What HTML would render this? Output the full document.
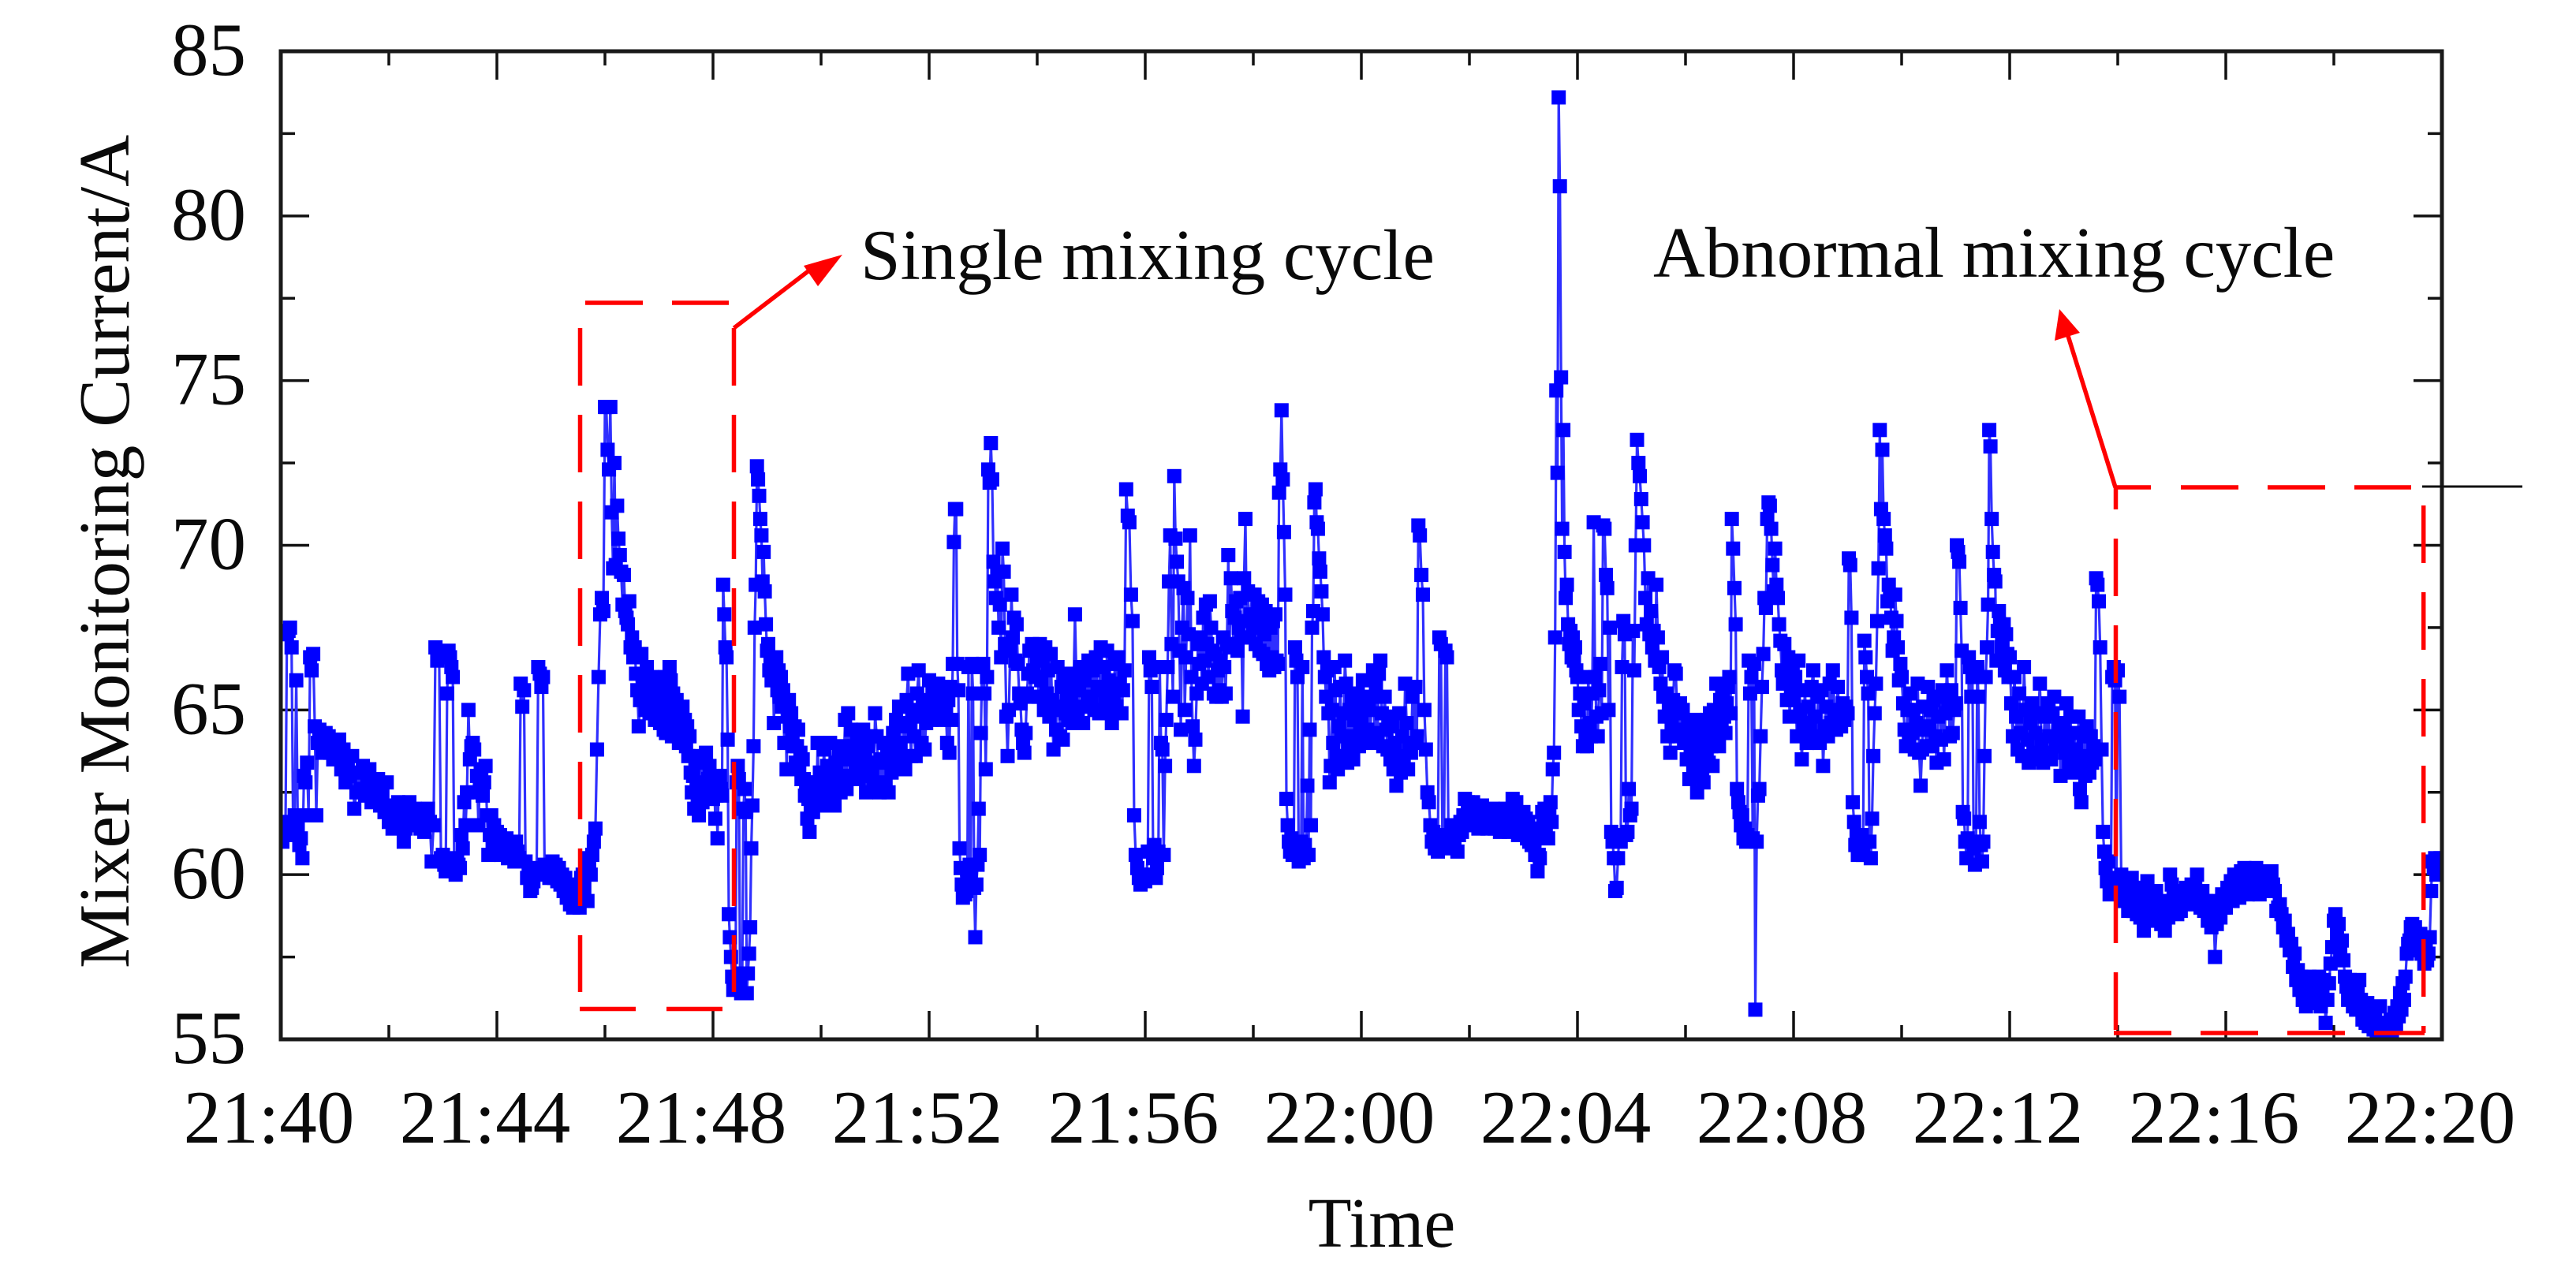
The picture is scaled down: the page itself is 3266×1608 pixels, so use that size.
<!DOCTYPE html>
<html lang="en">
<head>
<meta charset="utf-8">
<title>Mixer Monitoring Current</title>
<style>
html,body{margin:0;padding:0;background:#fff;}
svg{display:block;}
text{font-family:"Liberation Serif",serif;fill:#0a0a0a;}
</style>
</head>
<body>
<svg id="chart" xmlns="http://www.w3.org/2000/svg" width="3266" height="1608" viewBox="0 0 3266 1608">
  <defs><clipPath id="plot-clip"><rect x="354" y="63" width="2744" height="1256"/></clipPath></defs>
  <g id="axes"></g>
  <g id="series" clip-path="url(#plot-clip)"></g>
  <g id="frame"></g>
  <g id="labels"></g>
  <text font-size="91.5" transform="translate(163,1228) rotate(-90)">Mixer Monitoring Current/A</text>
  <text font-size="90" x="1752" y="1581" text-anchor="middle">Time</text>
  <text font-size="91" x="1091" y="354">Single mixing cycle</text>
  <text font-size="91" x="2096" y="351">Abnormal mixing cycle</text>

  <g fill="none" stroke="#ff0000" stroke-width="5.5">
    <path d="M742 384H924" stroke-dasharray="73 37"/>
    <path d="M735.5 416V1258" stroke-dasharray="73 37"/>
    <path d="M930.5 416V1258" stroke-dasharray="73 37"/>
    <path d="M735 1279.5H916" stroke-dasharray="71 39"/>
    <path d="M930.5 416L1035 336"/>
    <polygon points="1068,323 1019,337 1037,363" fill="#ff0000" stroke="none"/>
  </g>
  <g fill="none" stroke="#ff0000" stroke-width="5.5">
    <path d="M2682 618H3057" stroke-dasharray="45 38 73 37 73 37 73 0"/>
    <path d="M2682.5 1306V618" stroke-dasharray="73 37"/>
    <path d="M3072.7 641V1310" stroke-dasharray="73 37"/>
    <path d="M2680 1310H3074" stroke-dasharray="73 37"/>
    <path d="M2682 618L2622 426"/>
    <polygon points="2611,392 2605,432 2637,422" fill="#ff0000" stroke="none"/>
  </g>
  <line x1="3071" y1="617" x2="3198" y2="617" stroke="#111" stroke-width="3"/>
</svg>
<script>
const xTickLabels = ['21:40','21:44','21:48','21:52','21:56','22:00','22:04','22:08','22:12','22:16','22:20'];
const xTickMinutes = [0,4,8,12,16,20,24,28,32,36,40];
const yTickValues = [55,60,65,70,75,80,85];

const m00 = [61.3,61.0,61.6,61.2,67.3,67.4,67.5,66.9,61.2,61.8,65.9,61.5,60.9,61.1,60.5,63.0,62.8,63.4,61.8,66.6,66.2,66.7,64.5,61.8,64.0,64.4,64.2,63.7,64.1,64.3,63.9,64.2,63.7,64.0,63.5];
const m01 = [64.0,63.5,64.1,63.2,63.8,62.8,63.4,63.0,63.6,62.0,62.5,63.1,62.6,63.3,62.4,62.9,63.2,62.2,62.7,62.3,62.9,62.1,62.5,61.9,62.8];
const m02 = [61.6,62.1,61.4,61.9,61.5,62.2,61.7,62.0,61.0,61.4,61.9,62.2,61.5,61.8,62.0,61.6,61.9,61.4,61.7,61.3,61.9,62.0,61.6,60.4,61.5,66.9,66.5,66.6,60.5];
const m03 = [60.6,60.3,60.1,65.5,66.8,66.6,66.3,66.0,60.2,60.0,60.5,60.3,60.2,61.2,60.8,62.2,61.5,62.5,65.0,63.5,63.9,64.0,63.8,62.5,63.0,61.5,62.9,63.2,62.4,62.8,63.3,61.8,60.6,61.2,61.8,60.9,61.5,61.0];
const m04 = [61.3,60.9,61.2,60.6,61.0,60.7,61.1,60.5,60.9,60.6,60.9,60.4,61.0,60.7,60.5,65.8,65.1,65.6,60.4,59.9,60.0,59.5,59.6,59.8,60.2,60.1,66.3,66.1,65.7,66.0,60.3,60.0,60.2,59.9];
const m05 = [60.2,60.4,59.9,60.3,59.8,60.2,59.7,60.0,59.5,59.9,59.3,59.7,59.1,59.6,59.0,59.3,59.1,59.5,59.0,59.9,60.0,59.6,60.5,59.2,60.3,60.0,60.6,61.0,61.4,63.8,66.0,67.9,68.4,68.0];
const m06 = [74.2,74.2,72.9,72.3,74.2,71.0,69.3,72.5,69.4,71.2,70.2,69.7,69.2,68.2,69.1,68.0,67.8,67.6,68.3,66.9,67.2,66.6,66.9,66.1,65.6,64.5,65.3,66.7,66.0,65.5,65.0,66.3,65.7,64.9,65.3,66.0,65.3,64.7,65.6,65.0];
const m07 = [65.8,64.6,65.6,65.0,64.4,66.0,64.3,65.4,64.8,66.3,65.9,64.2,65.5,64.9,64.3,65.3,64.6,64.0,65.0,64.4,65.1,64.1,64.7,63.9,64.5,63.6,64.2,63.1,62.5,63.0,62.0,63.4,62.6,62.1,61.8,63.6,62.7,62.2,63.5,62.8,63.7,62.3,62.9,63.3,62.4,62.9];
const m08 = [62.3,62.9,61.7,62.4,61.1,62.6,63.0,62.6,62.4,68.8,67.9,66.9,66.6,64.1,58.8,58.1,57.5,56.9,56.5,56.7,56.6,62.8,63.3,62.9,56.8,56.4,57.0,62.0,62.6,61.9,56.4,57.0,57.6,58.4,60.8,62.1,63.9,67.5,68.8,72.4,72.0,71.5,70.8,70.3,68.9,69.8,68.6,67.6];
const m09 = [66.8,67.0,66.2,66.6,65.9,66.5,64.6,66.0,66.6,65.6,66.2,65.4,66.0,65.1,65.6,64.0,65.2,63.2,64.8,65.3,64.5,64.9,64.2,63.9,64.5,63.4,63.9,64.4,63.2,63.7,62.9,63.5,62.9,62.4,62.8,61.7,62.3,61.3,62.0,62.6,61.9,62.3,62.8,62.1,64.0,62.6,63.1];
const m10 = [62.1,62.9,63.8,62.5,63.3,62.7,64.0,63.1,62.4,62.1,63.4,62.8,63.6,62.5,63.9,63.0,64.7,62.6,64.9,63.5,64.4,63.0,63.9,63.4,64.3,62.9,63.7,63.2,64.4,63.5,62.5,63.9,63.2,64.2,63.0,62.7];
const m11 = [64.9,64.2,63.4,62.5,63.5,62.6,64.0,62.8,63.6,62.5,63.9,63.1,64.3,63.2,64.7,63.6,65.1,64.0,63.4,64.5,63.2,65.3,66.1,64.6,63.6,65.0,64.2,63.6,65.5,66.2,64.8,64.0,65.2,63.8,64.6,65.3];
const m12 = [65.9,65.1,64.7,65.5,65.0,65.6,64.8,65.2,65.8,64.9,65.4,65.7,64.7,65.1,65.6,64.9,64.0,65.3,63.7,65.7,64.7,66.4,70.1,71.1,71.1,66.4,65.6,60.8,60.2,59.7,59.3,59.6,59.4,59.5,60.1,66.3,60.3,60.0,66.4,65.5,59.6,58.1,59.7,60.3,62.0,60.6,64.3,66.3];
const m13 = [66.4,65.5,63.2,66.0,72.3,71.9,73.1,72.0,69.5,68.9,68.4,69.2,67.5,68.2,66.6,69.9,69.2,67.0,64.8,63.6,65.0,66.8,68.5,67.2,67.8,66.5,67.6,66.4,65.5,65.2,64.4,64.0,63.7,64.3,65.5,66.1,66.8,65.4,67.0,66.2,66.9,66.0];
const m14 = [66.6,65.4,67.0,65.9,66.5,65.0,66.9,65.5,66.2,64.8,66.7,65.3,63.8,65.0,64.4,66.3,65.1,64.2,65.7,64.1,66.0,64.9,65.5,64.7,66.1,65.3,64.6,65.8,67.9,66.0,65.0,65.6,66.3,65.1,64.6,65.9,66.2,65.2,66.5,65.4];
const m15 = [65.4,66.2,65.0,66.6,65.7,64.9,66.9,65.6,66.3,65.2,66.8,65.9,65.0,64.6,65.5,66.4,65.1,66.6,65.8,64.9,65.6,66.2,71.7,70.9,70.7,68.5,67.7,61.8,60.6,60.2,59.9,59.7,59.8,60.0];
const m16 = [59.8,60.0,60.7,66.6,66.2,65.7,60.5,60.9,59.9,60.2,60.7,66.3,64.0,63.8,60.6,63.3,64.7,66.3,68.9,70.3,67.0,65.4,72.1,70.2,69.5,68.9,66.8,64.4,67.5,68.7,65.0,66.6,68.4,67.3,70.3,66.0,64.5,63.3,64.1,65.5,67.0];
const m17 = [66.4,67.2,65.8,67.8,66.5,68.2,67.0,66.0,68.3,67.5,66.8,65.5,66.7,65.4,66.2,65.6,66.5,65.4,67.2,66.3,65.5,67.0,69.7,66.9,69.0,68.0,67.0,67.8,68.3,66.8,67.5,68.4,67.2,64.8,69.0,70.8,67.7,68.6,67.2,67.9,68.5];
const m18 = [67.5,68.5,67.0,67.9,68.3,66.8,67.6,68.2,66.7,67.3,68.0,66.4,67.8,66.2,67.5,66.6,67.7,66.3,67.9,66.5,66.4,71.6,72.3,74.1,72.0,70.4,68.5,62.3,61.5,61.0,60.7,61.1,60.6,60.9,66.9,66.5,66.0,60.4,60.8,61.0,66.3,60.5,60.9,60.6];
const m19 = [62.7,60.6,64.4,61.5,67.5,68.0,71.3,71.7,70.7,70.5,69.6,69.2,68.6,67.9,66.6,66.0,65.4,66.2,64.9,62.8,63.3,65.0,64.0,66.3,65.6,63.6,63.2,64.5,65.7,64.2,63.6,64.9,66.5,65.8,63.4,63.9,65.0,64.2,65.4,63.5,64.7,65.2,64.0,65.5,63.9,64.6];
const m20 = [64.8,65.9,64.2,65.2,64.4,65.0,64.0,65.4,66.2,64.3,65.8,64.1,66.1,66.5,64.9,63.9,65.4,64.4,63.8,64.8,63.5,64.5,63.2,64.0,62.7,63.6,64.9,63.1,64.2,63.5,65.8,64.6,63.2,64.0,63.7,65.4,64.0];
const m21 = [65.7,64.2,70.6,70.3,69.1,68.5,65.0,63.8,62.5,62.2,61.5,61.0,61.3,60.8,61.2,60.7,67.2,67.0,61.0,60.9,66.8,66.6,61.2,60.8,61.5,61.1,60.9,61.3,60.7,61.2,61.6,61.3,61.8,62.3,61.6,62.2];
const m22 = [62.0,61.5,62.2,61.6,62.1,61.4,61.9,62.1,61.5,61.8,61.4,61.9,61.6,62.0,61.4,61.7,61.9,61.3,61.8,61.5,62.0,61.7,61.3,61.8,62.3,61.5,62.2,61.2,61.8,61.4];
const m23 = [61.9,61.4,61.7,61.1,61.6,61.0,61.4,60.9,61.3,60.9,60.6,61.2,60.1,60.6,60.5,61.3,61.9,61.5,62.0,61.5,61.9,61.1,61.8,62.2,61.6,63.2,63.7,67.2,74.7,72.2,83.6,80.9,75.1,70.5,73.5,69.8,68.4,68.8,67.6,67.0,67.4,66.6,67.2,66.5,66.9,66.2];
const m24 = [66.0,65.0,65.5,64.5,63.9,65.2,64.3,63.9,66.0,64.6,64.2,65.5,70.7,66.0,64.8,64.2,65.6,66.4,64.9,70.6,70.5,69.1,68.7,65.0,67.5,61.3,61.0,60.5,59.5,59.6,60.5,61.2,61.0,66.3,67.7,67.3,61.2,61.3,62.6,61.8];
const m25 = [62.0,67.4,66.2,70.0,73.2,72.5,72.1,71.4,70.7,70.0,68.4,67.6,69.0,67.3,68.0,66.9,67.4,66.5,68.8,67.2,66.3,65.8,66.6,65.4,64.8,65.5,64.2,65.0,63.7,64.6,65.3,66.2,66.1,64.9,64.2,65.2,64.4,65.0,64.0];
const m26 = [64.2,63.5,64.6,62.9,63.8,64.3,63.2,64.7,63.6,62.5,64.0,63.2,64.6,63.0,62.8,64.3,63.6,64.7,63.4,64.9,63.9,63.3,65.0,64.2,65.8,64.6,63.9,65.3,64.4,65.6,64.8,64.3,65.2,65.7,66.0,64.9,70.8,69.9,68.7,67.6,62.6,62.2];
const m27 = [61.9,61.5,61.8,61.1,61.4,61.0,61.2,66.5,65.5,66.0,61.1,66.4,55.9,61.0,62.4,62.6,64.2,65.7,66.7,68.4,68.1,70.8,71.3,71.2,70.5,69.4,68.6,69.9,68.8,68.4,67.6,67.1,66.2,65.8,67.0,66.0,65.3,66.6,64.8,65.6,66.3];
const m28 = [65.3,66.0,64.2,66.5,65.0,63.5,64.6,65.6,64.0,65.1,64.4,65.7,66.2,64.8,64.2,65.4,64.0,65.6,63.3,64.5,65.1,64.2,65.8,64.6,66.2,65.0,64.4,65.7,64.9,64.5,65.2,64.7,65.1];
const m29 = [64.9,69.6,69.4,67.8,62.2,61.6,60.9,61.2,60.6,61.0,60.7,61.2,60.6,67.1,66.6,66.0,65.5,61.0,60.5,61.7,63.6,64.9,65.8,67.7,69.3,73.5,71.1,72.9,70.8,70.3,69.9,68.3,68.8,68.5,67.8,66.8,67.2,68.5,67.7,66.9,65.9,66.4];
const m30 = [66.0,65.2,64.4,63.9,65.0,64.1,65.5,64.3,65.0,63.8,64.6,65.8,63.7,62.7,63.8,65.1,64.4,63.9,65.7,64.5,65.0,63.9,65.3,64.2,63.4,64.8,65.4,64.1,65.6,63.5,64.9,66.2,65.3,64.2,65.6,64.3,65.0];
const m31 = [65.2,70.0,69.8,69.5,68.1,66.8,61.9,61.7,61.0,60.5,61.1,66.6,66.3,65.4,66.0,60.8,60.3,61.0,66.3,65.4,61.6,60.9,60.4,61.0,63.6,66.0,66.9,68.2,73.5,73.0,70.8,69.8,69.1,68.9,66.5,67.4,68.0,67.6,66.9,67.0,67.6,66.2,67.3,66.7,66.0];
const m32 = [66.6,65.2,64.2,66.0,64.8,63.8,65.5,64.3,63.6,66.3,65.0,64.1,63.4,64.6,65.2,63.7,64.3,63.5,64.9,65.8,64.1,63.4,64.8,63.7,65.2,64.2,63.5,64.9,65.4,64.0,63.9,64.6,63.0,64.3];
const m33 = [64.5,63.7,65.2,64.0,63.3,64.8,63.6,63.1,64.3,63.8,63.2,64.8,62.6,62.2,63.5,64.2,63.0,64.5,63.6,63.1,64.2,63.4,63.9,63.5,69.0,68.8,68.3,66.9,63.8,61.3,60.7,60.2,59.8,60.4,59.4,59.9,66.0,66.3,65.9,59.5];
const m34 = [66.2,65.4,60.0,59.6,59.2,59.7,58.9,59.5,59.9,58.9,59.6,58.8,59.3,58.7,59.6,58.3,59.0,59.8,58.8,59.4,58.6,59.2,59.5,58.7,59.2,58.5,59.1,58.3,59.0,58.7,60.0];
const m35 = [59.7,59.4,59.0,58.8,59.3,58.9,59.5,59.2,59.6,59.4,59.1,59.7,59.3,59.6,60.0,59.3,59.0,59.5,58.9,59.2,58.6,59.0,58.4,59.2,57.5,58.5,59.1,58.7,59.4,59.0];
const m36 = [59.0,59.6,59.3,59.8,59.2,60.0,59.4,59.9,59.3,60.1,59.5,60.2,59.7,59.4,60.1,59.6,60.0,59.5,60.2,59.7,59.4,60.0,59.6,60.1,59.6,59.9,59.5,60.1,59.7,59.5,58.9,59.0];
const m37 = [59.1,58.8,58.4,58.6,58.0,58.2,57.7,57.9,57.2,57.6,56.8,57.1,56.5,56.9,56.2,56.7,56.0,56.5,56.9,56.2,56.7,56.1,56.6,56.3,56.9,56.0,56.5,56.8,55.5,56.2,56.7,57.3,57.8];
const m38 = [58.6,58.8,58.2,58.5,57.6,58.0,57.4,56.9,56.6,56.2,56.8,56.4,56.0,56.6,55.9,56.5,56.8,56.2,55.6,56.0,55.5,56.1,55.4,55.7,55.9,55.3,55.6,55.2,55.5,56.0,55.3,55.1,55.4,55.0];
const m39 = [55.2,55.1,55.6,55.2,55.5,55.8,55.4,56.0,55.7,56.4,55.9,56.7,56.2,56.9,57.6,57.9,58.0,58.4,58.5,58.2,58.4,57.9,58.1,57.7,58.2,57.6,58.0,57.3,57.9,57.4,57.6,58.1,59.5,60.4,60.2,60.5,60.0,60.4,60.3,60.5];
const minuteSeries = [m00,m01,m02,m03,m04,m05,m06,m07,m08,m09,m10,m11,m12,m13,m14,m15,m16,m17,m18,m19,m20,m21,m22,m23,m24,m25,m26,m27,m28,m29,m30,m31,m32,m33,m34,m35,m36,m37,m38,m39];

const NS = 'http://www.w3.org/2000/svg';
const plot = {left:356, right:3096, top:65, bottom:1318};
const xDomain = [0,40];
const yDomain = [55,85];
function xScale(m){ return plot.left + (m - xDomain[0]) / (xDomain[1] - xDomain[0]) * (plot.right - plot.left); }
function yScale(v){ return plot.bottom - (v - yDomain[0]) / (yDomain[1] - yDomain[0]) * (plot.bottom - plot.top); }
function mk(tag, parent, attrs){
  const el = document.createElementNS(NS, tag);
  for (const k in attrs) el.setAttribute(k, attrs[k]);
  parent.appendChild(el);
  return el;
}
const axes = document.getElementById('axes');
const frame = document.getElementById('frame');
const labels = document.getElementById('labels');
const series = document.getElementById('series');

function tick(x1, y1, x2, y2, name){
  const t = mk('line', axes, {x1:x1, y1:y1, x2:x2, y2:y2, stroke:'#111', 'stroke-width':3.5});
  
  
}
const MAJOR = 36, MINOR = 18;
xTickMinutes.forEach(function(m, i){
  const x = xScale(m);
  if (i > 0 && i < xTickMinutes.length - 1) {
    tick(x, plot.bottom, x, plot.bottom - MAJOR, 'x-major-tick');
    tick(x, plot.top, x, plot.top + MAJOR, 'x-major-tick-top');
  }
  if (i < xTickMinutes.length - 1) {
    const xm = xScale((m + xTickMinutes[i + 1]) / 2);
    tick(xm, plot.bottom, xm, plot.bottom - MINOR, 'x-minor-tick');
    tick(xm, plot.top, xm, plot.top + MINOR, 'x-minor-tick-top');
  }
  const lab = mk('text', labels, {x:x - 15, y:1449, 'font-size':95, 'text-anchor':'middle'});
  
  
  lab.textContent = xTickLabels[i];
});
yTickValues.forEach(function(v, i){
  const y = yScale(v);
  if (i > 0 && i < yTickValues.length - 1) {
    tick(plot.left, y, plot.left + MAJOR, y, 'y-major-tick');
    tick(plot.right, y, plot.right - MAJOR, y, 'y-major-tick-right');
  }
  if (i < yTickValues.length - 1) {
    const ym = yScale((v + yTickValues[i + 1]) / 2);
    tick(plot.left, ym, plot.left + MINOR, ym, 'y-minor-tick');
    tick(plot.right, ym, plot.right - MINOR, ym, 'y-minor-tick-right');
  }
  const lab = mk('text', labels, {x:312, y:y + 30, 'font-size':95, 'text-anchor':'end'});
  
  
  lab.textContent = String(v);
});

const pts = [];
minuteSeries.forEach(function(vals, minute){
  vals.forEach(function(v, j){
    pts.push([xScale(minute + j / vals.length), yScale(v)]);
  });
});
const line = mk('polyline', series, {
  points: pts.map(function(p){ return p[0].toFixed(1) + ',' + p[1].toFixed(1); }).join(' '),
  fill:'none', stroke:'#2f2fff', 'stroke-width':3.2, 'stroke-linejoin':'round'
});


const SIZE = 18;
pts.forEach(function(p){
  const r = mk('rect', series, {x:(p[0] - SIZE / 2).toFixed(1), y:(p[1] - SIZE / 2).toFixed(1), width:SIZE, height:SIZE, fill:'#0000ff'});
  
  
});
const border = mk('rect', frame, {x:plot.left, y:plot.top, width:plot.right - plot.left, height:plot.bottom - plot.top, fill:'none', stroke:'#1a1a1a', 'stroke-width':5});


</script>
</body>
</html>
